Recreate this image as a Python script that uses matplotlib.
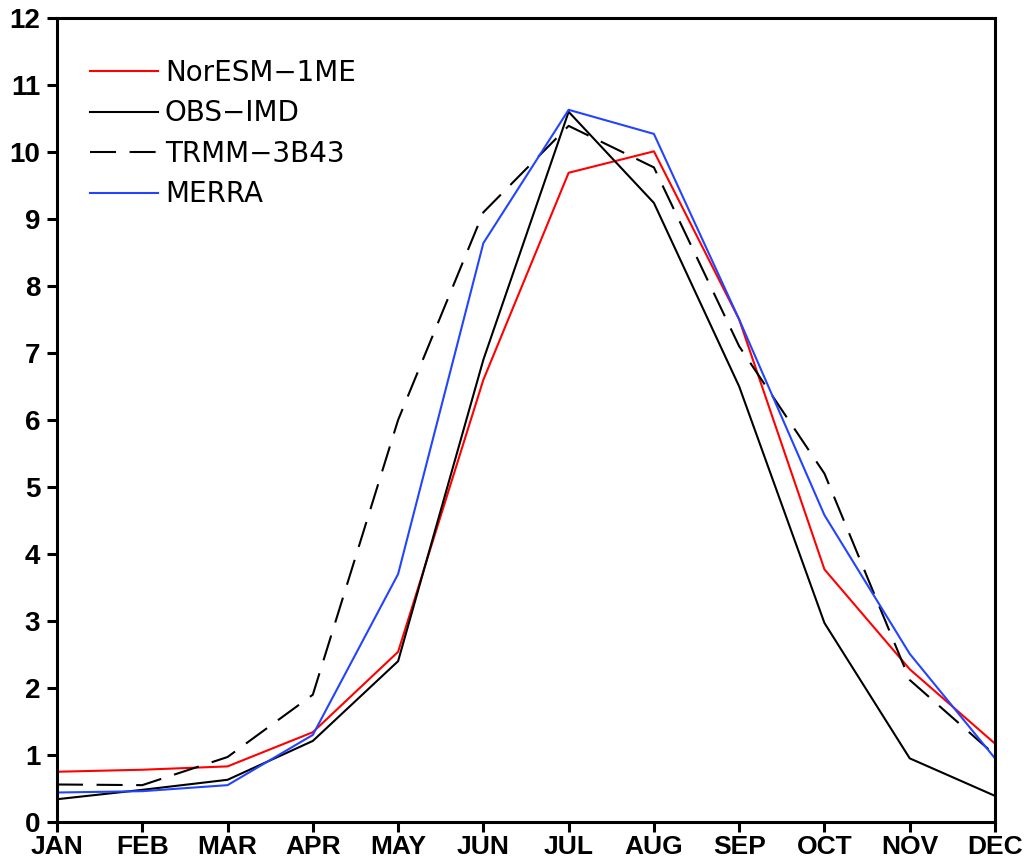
import matplotlib
matplotlib.use("Agg")
import matplotlib.pyplot as plt

months = ["JAN", "FEB", "MAR", "APR", "MAY", "JUN", "JUL", "AUG", "SEP", "OCT", "NOV", "DEC"]
noresm = [0.75, 0.78, 0.83, 1.34, 2.54, 6.6, 9.69, 10.01, 7.5, 3.77, 2.28, 1.17]
obs_imd = [0.34, 0.48, 0.63, 1.21, 2.40, 6.9, 10.6, 9.24, 6.5, 2.97, 0.95, 0.39]
trmm = [0.56, 0.55, 0.97, 1.90, 6.0, 9.1, 10.39, 9.77, 7.1, 5.2, 2.12, 1.0]
merra = [0.44, 0.46, 0.55, 1.30, 3.7, 8.64, 10.63, 10.27, 7.5, 4.58, 2.51, 0.95]
yticks = list(range(0, 13))

tick_family = ['Liberation Sans', 'DejaVu Sans']
plt.rcParams['font.family'] = ['DejaVu Sans']

fig = plt.figure(figsize=(10.24, 8.63), dpi=100)
ax = fig.add_axes([57/1024, 41/863, (995-57)/1024, (822-18)/863])

x = list(range(len(months)))
ax.plot(x, noresm, color='#ff0000', lw=1.5, label='NorESM\u22121ME')
ax.plot(x, obs_imd, color='black', lw=1.5, label='OBS\u2212IMD')
ax.plot(x, trmm, color='black', lw=1.5, linestyle=(0, (12.5, 6.5)), label='TRMM\u22123B43')
ax.plot(x, merra, color='#2244ff', lw=1.5, label='MERRA')

ax.set_xlim(0, 11)
ax.set_ylim(0, 12)
ax.set_xticks(x)
ax.set_xticklabels(months, family=tick_family, fontweight='bold', fontsize=19)
ax.set_yticks(yticks)
ax.set_yticklabels([str(v) for v in yticks], family=tick_family, fontweight='bold', fontsize=20)
for s in ax.spines.values():
    s.set_linewidth(2.2)
ax.tick_params(axis='both', direction='out', length=7, width=2.2)
ax.tick_params(axis='x', pad=2)
ax.tick_params(axis='y', pad=5)

leg = ax.legend(loc='upper left', bbox_to_anchor=(33/938, (822-59)/804), frameon=False,
                prop={'family': 'DejaVu Sans', 'size': 20},
                handlelength=2.45, handletextpad=0.25, labelspacing=0.45,
                borderaxespad=0, borderpad=0)

fig.savefig('out.png', dpi=100)
